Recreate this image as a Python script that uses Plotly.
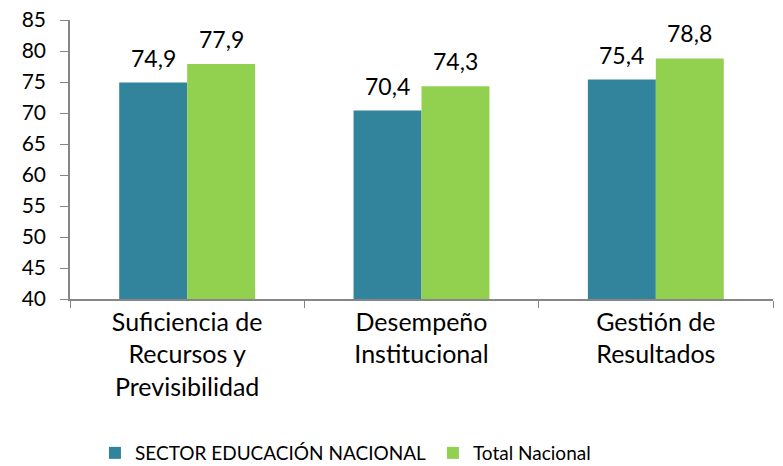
import plotly.graph_objects as go

categories = ["Suficiencia de<br>Recursos y<br>Previsibilidad", "Desempeño<br>Institucional", "Gestión de<br>Resultados"]
sector = [74.9, 70.4, 75.4]
total = [77.9, 74.3, 78.8]
sector_labels = ["74,9", "70,4", "75,4"]
total_labels = ["77,9", "74,3", "78,8"]
series_names = ["SECTOR EDUCACIÓN NACIONAL", "Total Nacional"]

FONT = "Lato, 'Open Sans', sans-serif"

W, H = 783, 466
ML, MR, MT, MB = 70, 10, 20, 167
BARGAP = 0.42
plot_w = W - ML - MR
bar_px = plot_w / len(categories) * (1 - BARGAP) / 2

fig = go.Figure()
fig.add_trace(go.Bar(x=categories, y=sector, name=series_names[0], marker_color="#31849B",
                     marker_line_width=0))
fig.add_trace(go.Bar(x=categories, y=total, name=series_names[1], marker_color="#92D050",
                     marker_line_width=0))

for vals, labels, sign in ((sector, sector_labels, -1), (total, total_labels, 1)):
    for c, v, t in zip(categories, vals, labels):
        fig.add_annotation(x=c, y=v, text=t, showarrow=False, xref="x", yref="y",
                           xanchor="center", yanchor="bottom", xshift=sign * bar_px / 2,
                           yshift=9, font=dict(size=23, color="#000000"))

fig.update_layout(
    width=W, height=H,
    margin=dict(l=ML, r=MR, t=MT, b=MB, autoexpand=False),
    plot_bgcolor="white", paper_bgcolor="white",
    font=dict(family=FONT, size=20, color="#000000"),
    barmode="group", bargap=BARGAP, bargroupgap=0,
    showlegend=True,
    legend=dict(orientation="h", x=0.0355, xanchor="left", y=-0.552, yanchor="middle",
                font=dict(size=19), itemwidth=30, traceorder="normal",
                entrywidth=293),
)
fig.update_yaxes(range=[40, 85], dtick=5, showgrid=False, showline=True, linecolor="#868686",
                 linewidth=1.5, ticks="outside", ticklen=8, tickcolor="#868686",
                 tickfont=dict(size=21), zeroline=False, automargin=False,
                 ticklabelstandoff=10, ticklabeloverflow="allow")
fig.update_xaxes(showline=True, linecolor="#868686", linewidth=1.5, ticks="outside",
                 tickson="boundaries", ticklen=7, tickcolor="#868686", tickfont=dict(size=25),
                 automargin=False)

fig.write_html("out.html", config={"displayModeBar": False},
               post_script="document.body.style.margin='0';document.body.style.overflow='hidden';")
